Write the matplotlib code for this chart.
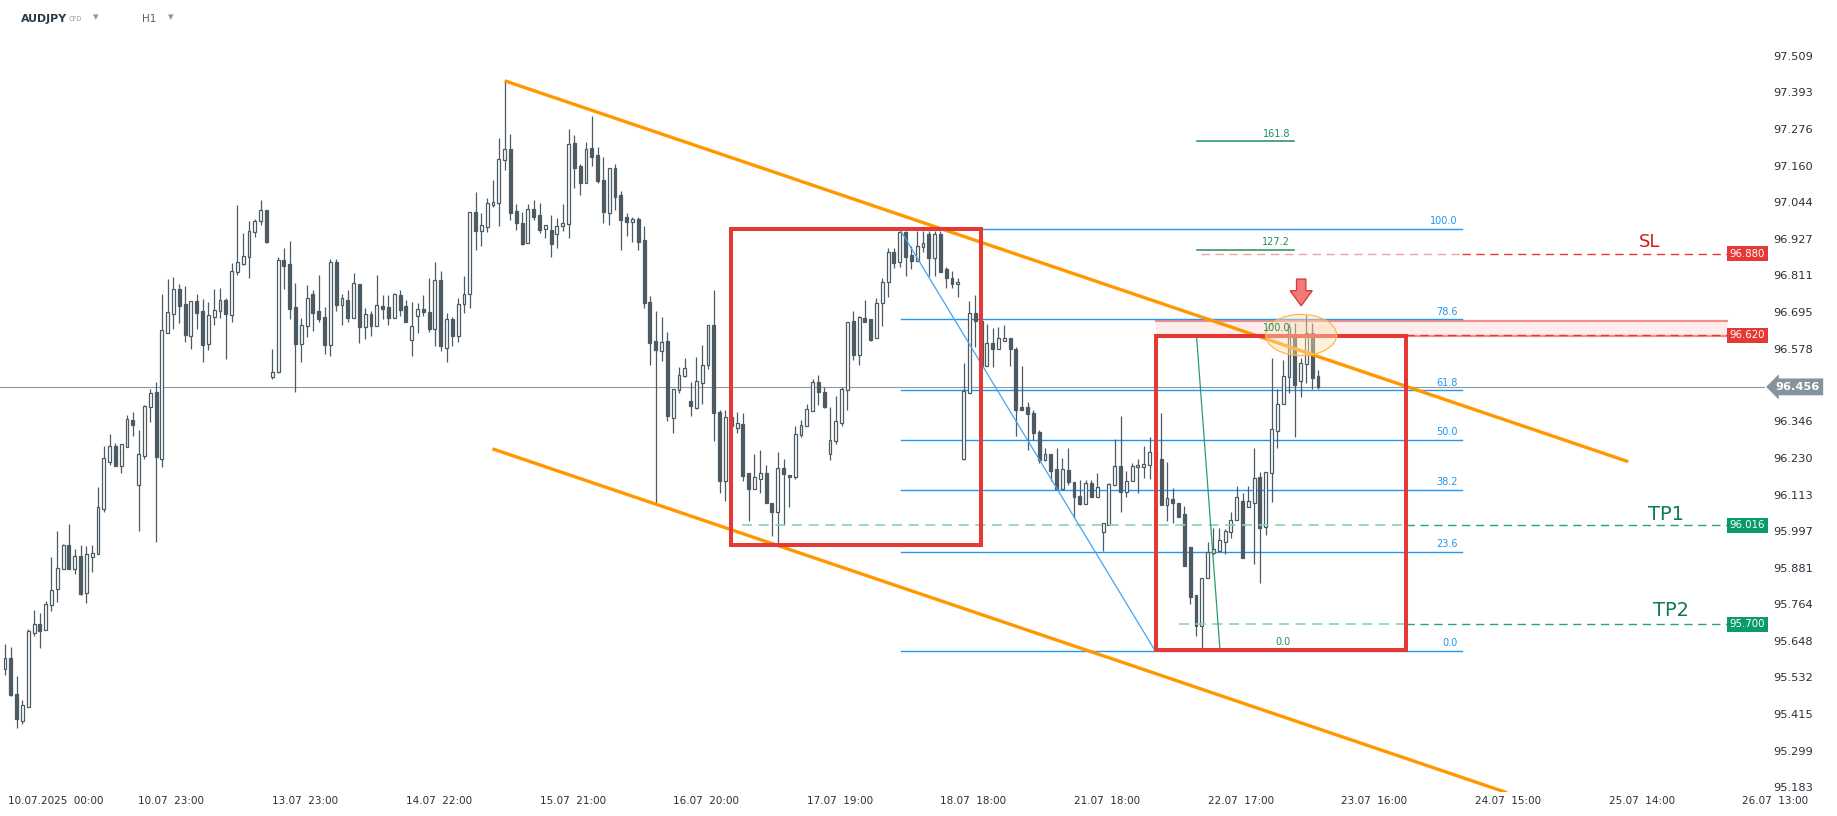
import matplotlib
matplotlib.use("Agg")
import matplotlib.pyplot as plt
from matplotlib.patches import Rectangle, Ellipse, Polygon
import numpy as np

# AUDJPY H1 candles (x = bar number from the first visible bar)
opens = [95.557, 95.592, 95.478, 95.394, 95.439, 95.672, 95.700, 95.681, 95.761, 95.812,
         95.877, 95.952, 95.878, 95.917, 95.801, 95.916, 95.925, 96.068, 96.218, 96.268,
         96.205, 96.266, 96.351, 96.145, 96.237, 96.391, 96.439, 96.228, 96.629, 96.689,
         96.769, 96.720, 96.619, 96.729, 96.697, 96.594, 96.677, 96.699, 96.732, 96.684,
         96.822, 96.847, 96.868, 96.948, 96.983, 97.019, 96.486, 96.502, 96.860, 96.847,
         96.709, 96.593, 96.649, 96.751, 96.696, 96.677, 96.590, 96.852, 96.717, 96.734,
         96.676, 96.783, 96.647, 96.687, 96.651, 96.712, 96.709, 96.676, 96.747, 96.712,
         96.606, 96.682, 96.703, 96.693, 96.641, 96.795, 96.581, 96.671, 96.619, 96.719,
         96.750, 97.014, 96.953, 96.964, 97.036, 97.040, 97.178, 97.212, 97.016, 96.979,
         96.913, 97.021, 97.002, 96.957, 96.955, 96.941, 96.969, 96.973, 97.231, 97.159,
         97.104, 97.215, 97.193, 97.114, 97.010, 97.151, 97.066, 96.995, 96.982, 96.990,
         96.923, 96.725, 96.602, 96.569, 96.602, 96.358, 96.446, 96.492, 96.411, 96.390,
         96.468, 96.525, 96.652, 96.376, 96.155, 96.359, 96.325, 96.337, 96.181, 96.130,
         96.162, 96.181, 96.086, 96.059, 96.197, 96.175, 96.168, 96.302, 96.333, 96.379,
         96.471, 96.439, 96.242, 96.283, 96.340, 96.446, 96.666, 96.557, 96.675, 96.672,
         96.611, 96.722, 96.789, 96.885, 96.853, 96.948, 96.875, 96.855, 96.900, 96.942,
         96.865, 96.942, 96.830, 96.802, 96.783, 96.228, 96.438, 96.690, 96.666, 96.521,
         96.595, 96.578, 96.603, 96.611, 96.576, 96.391, 96.391, 96.374, 96.312, 96.223,
         96.242, 96.194, 96.130, 96.192, 96.152, 96.109, 96.084, 96.149, 96.107, 95.994,
         96.015, 96.144, 96.203, 96.122, 96.158, 96.200, 96.202, 96.206, 96.249, 96.228,
         96.079, 96.098, 96.085, 96.051, 95.945, 95.794, 95.695, 95.847, 95.926, 95.935,
         95.961, 95.993, 96.032, 96.093, 96.075, 96.087, 96.168, 96.009, 96.181, 96.317,
         96.401, 96.488, 96.610, 96.476, 96.528, 96.626, 96.490]
highs = [95.637, 95.627, 95.536, 95.460, 95.685, 95.746, 95.735, 95.775, 95.916, 95.997,
         95.955, 96.020, 95.939, 95.953, 95.950, 95.953, 96.137, 96.268, 96.306, 96.276,
         96.273, 96.366, 96.376, 96.319, 96.397, 96.450, 96.471, 96.751, 96.800, 96.805,
         96.783, 96.777, 96.728, 96.751, 96.736, 96.726, 96.767, 96.771, 96.738, 96.849,
         97.035, 96.945, 96.984, 96.990, 97.050, 97.019, 96.576, 96.870, 96.899, 96.920,
         96.786, 96.674, 96.780, 96.764, 96.812, 96.709, 96.862, 96.862, 96.751, 96.764,
         96.817, 96.783, 96.706, 96.697, 96.812, 96.747, 96.747, 96.755, 96.763, 96.734,
         96.726, 96.723, 96.747, 96.804, 96.852, 96.824, 96.690, 96.677, 96.738, 96.809,
         97.014, 97.076, 97.008, 97.057, 97.114, 97.247, 97.430, 97.261, 97.038, 97.011,
         97.038, 97.051, 97.040, 96.970, 97.003, 96.993, 97.038, 97.276, 97.257, 97.165,
         97.235, 97.318, 97.218, 97.186, 97.151, 97.164, 97.079, 97.008, 96.995, 96.998,
         96.969, 96.746, 96.697, 96.678, 96.631, 96.449, 96.518, 96.547, 96.473, 96.552,
         96.590, 96.652, 96.765, 96.381, 96.383, 96.390, 96.376, 96.372, 96.181, 96.243,
         96.256, 96.207, 96.086, 96.248, 96.227, 96.175, 96.330, 96.351, 96.402, 96.480,
         96.494, 96.455, 96.392, 96.426, 96.455, 96.662, 96.698, 96.680, 96.734, 96.672,
         96.739, 96.802, 96.897, 96.897, 96.952, 96.952, 96.903, 96.952, 96.952, 96.952,
         96.952, 96.952, 96.839, 96.826, 96.801, 96.532, 96.730, 96.749, 96.690, 96.656,
         96.643, 96.646, 96.652, 96.611, 96.584, 96.521, 96.409, 96.381, 96.319, 96.261,
         96.242, 96.261, 96.231, 96.261, 96.152, 96.160, 96.160, 96.160, 96.183, 96.022,
         96.149, 96.290, 96.362, 96.187, 96.213, 96.227, 96.268, 96.297, 96.270, 96.372,
         96.218, 96.135, 96.085, 96.077, 95.945, 95.794, 95.847, 95.963, 96.006, 96.006,
         96.003, 96.059, 96.140, 96.117, 96.140, 96.263, 96.186, 96.184, 96.547, 96.448,
         96.540, 96.660, 96.658, 96.547, 96.685, 96.658, 96.509]
lows = [95.539, 95.472, 95.372, 95.383, 95.438, 95.663, 95.626, 95.681, 95.744, 95.772,
        95.875, 95.878, 95.862, 95.794, 95.767, 95.867, 95.925, 96.058, 96.207, 96.204,
        96.183, 96.266, 96.301, 95.996, 96.226, 96.345, 95.963, 96.202, 96.629, 96.641,
        96.660, 96.600, 96.576, 96.641, 96.536, 96.573, 96.653, 96.676, 96.546, 96.663,
        96.813, 96.844, 96.803, 96.934, 96.972, 96.915, 96.482, 96.499, 96.768, 96.672,
        96.441, 96.536, 96.616, 96.635, 96.663, 96.562, 96.555, 96.698, 96.654, 96.663,
        96.676, 96.597, 96.609, 96.619, 96.651, 96.673, 96.654, 96.676, 96.682, 96.663,
        96.555, 96.628, 96.682, 96.632, 96.587, 96.571, 96.536, 96.587, 96.600, 96.690,
        96.708, 96.891, 96.904, 96.949, 97.029, 96.969, 97.146, 96.987, 96.955, 96.907,
        96.913, 96.987, 96.947, 96.929, 96.870, 96.899, 96.953, 96.931, 97.090, 97.068,
        97.104, 97.159, 97.106, 96.978, 96.972, 97.020, 96.893, 96.937, 96.918, 96.893,
        96.708, 96.527, 96.085, 96.539, 96.348, 96.310, 96.438, 96.487, 96.364, 96.385,
        96.400, 96.512, 96.283, 96.118, 96.094, 96.300, 96.309, 96.155, 96.028, 96.130,
        96.118, 96.086, 95.982, 95.959, 96.017, 96.073, 96.162, 96.298, 96.330, 96.379,
        96.397, 96.388, 96.224, 96.274, 96.333, 96.384, 96.540, 96.527, 96.664, 96.603,
        96.611, 96.651, 96.743, 96.834, 96.839, 96.810, 96.832, 96.855, 96.886, 96.809,
        96.810, 96.820, 96.772, 96.770, 96.743, 96.222, 96.436, 96.582, 96.500, 96.521,
        96.518, 96.578, 96.601, 96.521, 96.301, 96.383, 96.256, 96.287, 96.213, 96.220,
        96.158, 96.130, 96.130, 96.144, 96.038, 96.081, 96.084, 96.107, 96.107, 95.935,
        96.015, 96.144, 96.059, 96.107, 96.158, 96.119, 96.165, 96.164, 96.220, 96.080,
        96.030, 96.024, 96.043, 95.887, 95.765, 95.663, 95.622, 95.847, 95.920, 95.935,
        95.924, 95.974, 96.032, 95.910, 96.075, 95.894, 95.831, 95.985, 96.091, 96.263,
        96.401, 96.435, 96.295, 96.425, 96.467, 96.448, 96.449]
closes = [95.592, 95.476, 95.400, 95.443, 95.679, 95.700, 95.680, 95.765, 95.809, 95.879,
          95.952, 95.878, 95.917, 95.798, 95.923, 95.926, 96.073, 96.229, 96.268, 96.204,
          96.273, 96.353, 96.336, 96.241, 96.395, 96.435, 96.234, 96.636, 96.693, 96.769,
          96.714, 96.621, 96.728, 96.692, 96.590, 96.685, 96.701, 96.731, 96.689, 96.826,
          96.852, 96.874, 96.951, 96.983, 97.019, 96.917, 96.502, 96.860, 96.842, 96.705,
          96.593, 96.652, 96.738, 96.692, 96.673, 96.590, 96.852, 96.717, 96.738, 96.676,
          96.785, 96.647, 96.687, 96.651, 96.715, 96.705, 96.676, 96.751, 96.702, 96.663,
          96.649, 96.703, 96.695, 96.641, 96.795, 96.587, 96.671, 96.619, 96.719, 96.750,
          97.014, 96.953, 96.970, 97.040, 97.043, 97.180, 97.212, 97.010, 96.978, 96.911,
          97.021, 96.998, 96.956, 96.970, 96.912, 96.967, 96.976, 97.228, 97.154, 97.106,
          97.212, 97.188, 97.112, 97.013, 97.151, 97.059, 96.988, 96.982, 96.990, 96.918,
          96.722, 96.597, 96.572, 96.598, 96.363, 96.449, 96.493, 96.515, 96.396, 96.474,
          96.525, 96.652, 96.372, 96.155, 96.359, 96.330, 96.340, 96.174, 96.130, 96.169,
          96.181, 96.086, 96.059, 96.197, 96.178, 96.168, 96.305, 96.336, 96.385, 96.473,
          96.439, 96.393, 96.286, 96.348, 96.450, 96.662, 96.557, 96.677, 96.664, 96.606,
          96.722, 96.789, 96.885, 96.850, 96.948, 96.869, 96.855, 96.905, 96.913, 96.865,
          96.942, 96.820, 96.801, 96.783, 96.789, 96.443, 96.690, 96.666, 96.521, 96.595,
          96.578, 96.611, 96.611, 96.578, 96.383, 96.383, 96.369, 96.309, 96.223, 96.242,
          96.187, 96.130, 96.194, 96.152, 96.107, 96.084, 96.149, 96.107, 96.139, 96.022,
          96.146, 96.203, 96.122, 96.158, 96.203, 96.206, 96.210, 96.249, 96.237, 96.080,
          96.101, 96.085, 96.043, 95.887, 95.788, 95.695, 95.847, 95.930, 95.939, 95.969,
          95.997, 96.032, 96.107, 95.910, 96.093, 96.165, 96.008, 96.184, 96.321, 96.403,
          96.490, 96.647, 96.462, 96.531, 96.626, 96.483, 96.456]

# price scale / time scale labels (96.462 sits under the last-price tag, so it is left out)
price_ticks = [97.509, 97.393, 97.276, 97.160, 97.044, 96.927, 96.811, 96.695, 96.578,
               96.346, 96.230, 96.113, 95.997, 95.881, 95.764, 95.648, 95.532, 95.415, 95.299, 95.183]
time_labels = ["10.07.2025  00:00", "10.07  23:00", "13.07  23:00", "14.07  22:00", "15.07  21:00",
               "16.07  20:00", "17.07  19:00", "18.07  18:00", "21.07  18:00", "22.07  17:00",
               "23.07  16:00", "24.07  15:00", "25.07  14:00", "26.07  13:00"]
time_label_bars = [8.7, 28.6, 51.6, 74.7, 97.7, 120.7, 143.7, 166.7, 189.7, 212.7,
                   235.7, 258.7, 281.7, 304.6]

# drawing objects (bar, price)
channel_top = [(86.0, 97.430), (279.4, 96.218)]
channel_bottom = [(83.9, 96.259), (258.5, 95.165)]
box1 = (125.0, 168.0, 95.953, 96.958)
box2 = (198.1, 241.1, 95.619, 96.618)
zone = (96.618, 96.666)
fib_low, fib_high = 95.615, 96.958
fib_levels = [0.0, 23.6, 38.2, 50.0, 61.8, 78.6, 100.0]
ext_low, ext_high = 95.619, 96.619
ext_levels = [0.0, 100.0, 127.2, 161.8]
sl_price, tp1_price, tp2_price, zone_price = 96.880, 96.016, 95.700, 96.620
last_price = 96.456

CANDLE = "#4b5a63"
ORANGE = "#ff9800"
RED = "#e53935"
BLUE = "#2196f3"
GREEN_FIB = "#1f8f62"
GREEN = "#0b9b6a"

fig = plt.figure(figsize=(18.37, 8.16), dpi=100)
ax = fig.add_axes([0, 24 / 816, 1765 / 1837, 792 / 816])
ax.set_xlim(-0.861, 302.93)
ax.set_ylim(95.167, 97.687)

x = np.arange(len(closes))
o, h, l, c = map(np.array, (opens, highs, lows, closes))
up = c >= o
body_lo = np.minimum(o, c)
body_h = np.maximum(np.abs(c - o), 0.003)

# zone behind the candles
ax.add_patch(Rectangle((box2[0], zone[0]), 296.4 - box2[0], zone[1] - zone[0],
                       facecolor="#fdeded", edgecolor="none", zorder=1))
for zp in zone:
    ax.plot([box2[0], 296.4], [zp, zp], color="#f4908c", lw=1.6, zorder=1.2)

# fib retracement
for lv in fib_levels:
    y = fib_low + (fib_high - fib_low) * lv / 100
    ax.plot([154.2, 250.8], [y, y], color=BLUE, lw=1.0, zorder=1.5)
    ax.annotate(f"{lv:.1f}", (250.0, y), xytext=(0, 2), textcoords="offset points",
                ha="right", va="bottom", fontsize=7, color=BLUE, zorder=5)
ax.plot([154.2, 198.0], [96.952, fib_low], color="#42a5f5", lw=0.9, zorder=3)

# fib extension
for lv in ext_levels:
    y = ext_low + (ext_high - ext_low) * lv / 100
    ax.plot([205.1, 221.9], [y, y], color=GREEN_FIB, lw=1.1, zorder=1.5)
    ax.annotate(f"{lv:.1f}", (221.2, y), xytext=(0, 2), textcoords="offset points",
                ha="right", va="bottom", fontsize=7, color=GREEN_FIB, zorder=5)
ax.plot([205.1, 209.1], [96.614, 95.625], color="#2a9d6f", lw=0.9, zorder=3)

# last price line
ax.axhline(last_price, color="#8d9ba0", lw=0.8, zorder=1.5)

# candles
ax.vlines(x, l, h, color=CANDLE, lw=0.9, zorder=2)
ax.bar(x[up], body_h[up], bottom=body_lo[up], width=0.5, color="white",
       edgecolor=CANDLE, linewidth=0.9, zorder=2.1)
ax.bar(x[~up], body_h[~up], bottom=body_lo[~up], width=0.5, color=CANDLE,
       edgecolor=CANDLE, linewidth=0.9, zorder=2.1)

# SL / TP dashed lines
dash = (0, (6, 4))
ax.plot([205.9, 250.8], [sl_price] * 2, color="#f3a0a0", lw=1, ls=dash, zorder=2.5)
ax.plot([250.8, 296.4], [sl_price] * 2, color=RED, lw=1, ls=dash, zorder=2.5)
ax.plot([241.1, 296.4], [zone_price] * 2, color=RED, lw=1, ls=dash, zorder=2.5)
ax.plot([126.8, 241.1], [tp1_price] * 2, color="#86d4b2", lw=1.2, ls=dash, zorder=2.5)
ax.plot([241.1, 296.4], [tp1_price] * 2, color="#22a774", lw=1, ls=dash, zorder=2.5)
ax.plot([202.1, 241.1], [tp2_price] * 2, color="#86d4b2", lw=1.2, ls=dash, zorder=2.5)
ax.plot([241.1, 296.4], [tp2_price] * 2, color="#22a774", lw=1, ls=dash, zorder=2.5)

ax.annotate("SL", (283.1, sl_price), xytext=(0, 2), textcoords="offset points",
            ha="center", va="bottom", fontsize=13, color="#cc1d1d")
ax.annotate("TP1", (285.9, tp1_price), xytext=(0, 1), textcoords="offset points",
            ha="center", va="bottom", fontsize=14, color="#0f7a50")
ax.annotate("TP2", (286.8, tp2_price), xytext=(0, 3), textcoords="offset points",
            ha="center", va="bottom", fontsize=14, color="#0f7a50")

# channel
for seg in (channel_top, channel_bottom):
    ax.plot([seg[0][0], seg[1][0]], [seg[0][1], seg[1][1]], color=ORANGE, lw=2.4,
            solid_capstyle="butt", zorder=3.2)

# red boxes
for b in (box1, box2):
    ax.add_patch(Rectangle((b[0], b[2]), b[1] - b[0], b[3] - b[2], fill=False,
                           edgecolor=RED, lw=2.9, zorder=3.5))

# ellipse and arrow at the top
ax.add_patch(Ellipse((223.1, 96.621), 12.2, 0.131, facecolor="#ffe0b2", alpha=0.45,
                     edgecolor="none", zorder=4))
ax.add_patch(Ellipse((223.1, 96.621), 12.2, 0.131, fill=False, edgecolor="#ffb74d",
                     lw=0.9, zorder=4))
ax_x, a_top, a_neck, a_tip = 223.1, 96.799, 96.762, 96.714
ax.add_patch(Polygon([(ax_x - 0.8, a_top), (ax_x + 0.8, a_top), (ax_x + 0.8, a_neck),
                      (ax_x + 1.9, a_neck), (ax_x, a_tip), (ax_x - 1.9, a_neck),
                      (ax_x - 0.8, a_neck)], closed=True, facecolor="#f07c7a",
                     edgecolor="#e0393e", lw=1.0, zorder=4.5))

# price boxes on the right
for p, col in ((sl_price, RED), (zone_price, RED), (tp1_price, GREEN), (tp2_price, GREEN)):
    ax.text(299.9, p, f"{p:.3f}", ha="center", va="center", fontsize=7.3, color="white",
            bbox=dict(boxstyle="square,pad=0.25", fc=col, ec="none"), zorder=6, clip_on=False)
ax.text(1.0185, last_price, f"{last_price:.3f}", transform=ax.get_yaxis_transform(),
        ha="center", va="center", fontsize=8.2, color="white", fontweight="bold",
        bbox=dict(boxstyle="larrow,pad=0.3", fc="#87939a", ec="none"), zorder=6, clip_on=False)

# axes styling
for s in ax.spines.values():
    s.set_visible(False)
ax.yaxis.tick_right()
ax.set_yticks(price_ticks)
ax.set_yticklabels([f"{t:.3f}" for t in price_ticks])
ax.tick_params(axis="y", length=0, pad=6, labelsize=8.2, labelcolor="#2a2e39")
inside = [(b, t) for b, t in zip(time_label_bars, time_labels) if b < 302.9]
ax.set_xticks([b for b, _ in inside])
ax.set_xticklabels([t for _, t in inside])
ax.tick_params(axis="x", length=0, pad=3, labelsize=7.5, labelcolor="#2a2e39")
for b, t in zip(time_label_bars, time_labels):
    if b >= 302.9:
        ax.text(b, -0.0045, t, transform=ax.get_xaxis_transform(), ha="center", va="top",
                fontsize=7.5, color="#2a2e39", clip_on=False)

# header
fig.text(21 / 1837, 1 - 19 / 816, "AUDJPY", fontsize=7.9, fontweight="bold",
         color="#2a3a45", va="center")
fig.text(69 / 1837, 1 - 19 / 816, "CFD", fontsize=4.8, color="#8a98a2", va="center")
fig.text(93 / 1837, 1 - 17 / 816, "\u25be", fontsize=8, color="#8a98a2", va="center")
fig.text(142 / 1837, 1 - 19 / 816, "H1", fontsize=7.5, color="#55626b", va="center")
fig.text(168 / 1837, 1 - 17 / 816, "\u25be", fontsize=8, color="#8a98a2", va="center")

fig.savefig("out.png", dpi=100, facecolor="white")
